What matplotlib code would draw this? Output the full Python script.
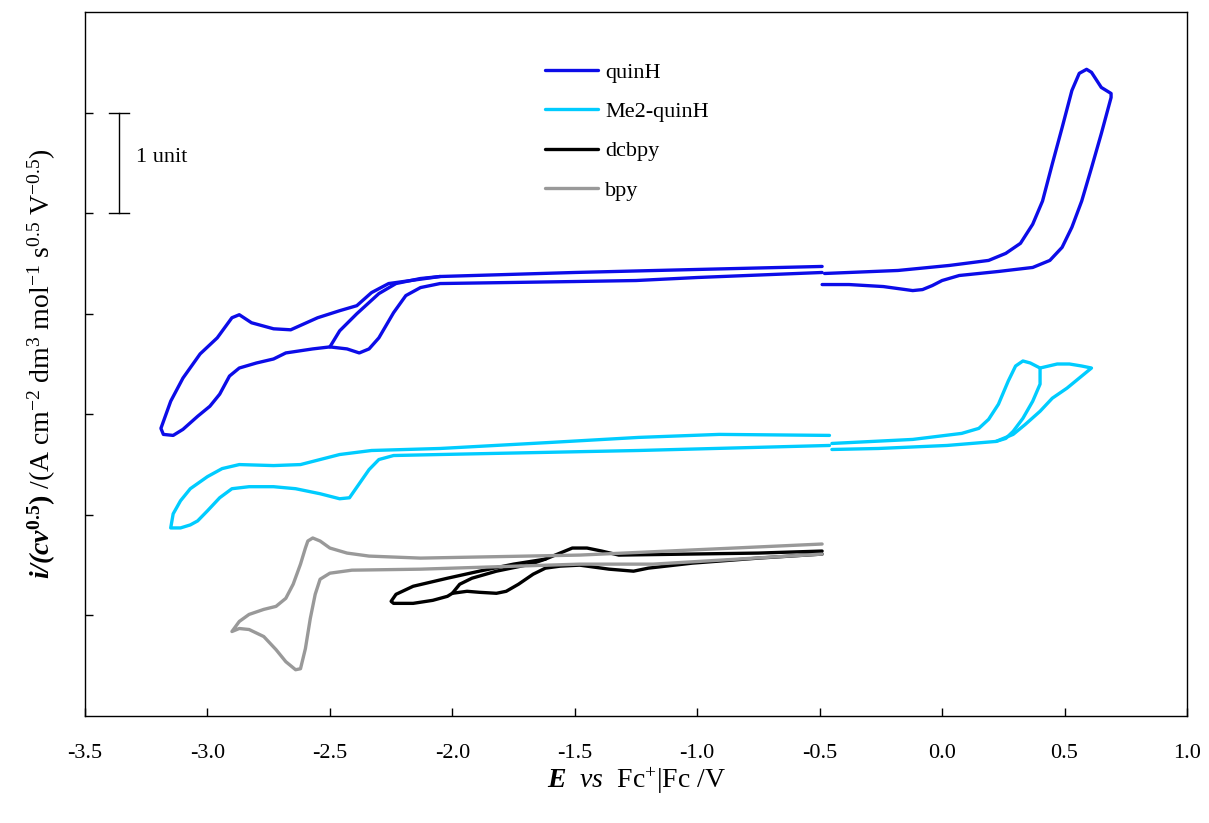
import matplotlib
matplotlib.use("Agg")
import matplotlib.pyplot as plt

plt.rcParams["font.family"] = "Liberation Serif"
plt.rcParams["font.size"] = 16
plt.rcParams["mathtext.fontset"] = "custom"
plt.rcParams["mathtext.rm"] = "Liberation Serif"
plt.rcParams["mathtext.it"] = "Liberation Serif:italic"
plt.rcParams["mathtext.bf"] = "Liberation Serif:bold"
plt.rcParams["mathtext.bfit"] = "Liberation Serif:bold:italic"

# quinH: cathodic loop, second (shorter) cycle, anodic loop
quinH_cat_E = [-0.49, -1.0, -1.5, -2.05, -2.26, -2.33, -2.39, -2.46, -2.55, -2.66, -2.73,
               -2.82, -2.87, -2.90, -2.96, -3.03, -3.10, -3.15, -3.19, -3.18, -3.14, -3.10,
               -3.04, -2.99, -2.95, -2.91, -2.87, -2.80, -2.73, -2.68, -2.57, -2.50, -2.43,
               -2.38, -2.34, -2.30, -2.24, -2.19, -2.13, -2.05, -1.5, -1.25, -1.0, -0.49]
quinH_cat_i = [3.47, 3.44, 3.41, 3.37, 3.30, 3.21, 3.08, 3.03, 2.96, 2.84, 2.85,
               2.91, 2.99, 2.96, 2.76, 2.60, 2.36, 2.13, 1.86, 1.80, 1.79, 1.85,
               1.98, 2.08, 2.20, 2.38, 2.46, 2.51, 2.55, 2.61, 2.65, 2.67, 2.65,
               2.61, 2.65, 2.76, 3.01, 3.18, 3.26, 3.30, 3.32, 3.33, 3.36, 3.41]
quinH_cyc2_E = [-2.50, -2.46, -2.39, -2.30, -2.23, -2.13, -2.05]
quinH_cyc2_i = [2.67, 2.83, 3.00, 3.20, 3.30, 3.35, 3.37]
quinH_an_E = [-0.48, -0.18, 0.03, 0.19, 0.26, 0.32, 0.37, 0.41, 0.45, 0.49, 0.53, 0.56,
              0.59, 0.61, 0.65, 0.69, 0.69, 0.65, 0.61, 0.57, 0.53, 0.49, 0.44, 0.37,
              0.23, 0.07, 0.00, -0.04, -0.08, -0.12, -0.18, -0.24, -0.38, -0.49]
quinH_an_i = [3.40, 3.43, 3.48, 3.53, 3.60, 3.70, 3.89, 4.12, 4.49, 4.85, 5.22, 5.39,
              5.43, 5.40, 5.25, 5.19, 5.15, 4.79, 4.45, 4.12, 3.86, 3.66, 3.53, 3.46,
              3.42, 3.38, 3.33, 3.28, 3.24, 3.23, 3.25, 3.27, 3.29, 3.29]

# Me2-quinH
me2_cat_E = [-0.46, -0.91, -1.24, -1.6, -2.05, -2.33, -2.46, -2.62, -2.73, -2.87, -2.94,
             -3.00, -3.07, -3.11, -3.14, -3.15, -3.11, -3.07, -3.04, -3.00, -2.95, -2.90,
             -2.83, -2.73, -2.64, -2.54, -2.46, -2.42, -2.38, -2.34, -2.30, -2.24, -2.05,
             -1.24, -0.46]
me2_cat_i = [1.79, 1.80, 1.77, 1.72, 1.66, 1.64, 1.60, 1.50, 1.49, 1.50, 1.46,
             1.38, 1.26, 1.14, 1.01, 0.87, 0.87, 0.90, 0.94, 1.04, 1.17, 1.26,
             1.28, 1.28, 1.26, 1.21, 1.16, 1.17, 1.31, 1.45, 1.55, 1.59, 1.60,
             1.64, 1.69]
me2_an_E = [-0.45, -0.12, 0.08, 0.15, 0.19, 0.23, 0.27, 0.30, 0.33, 0.36, 0.40, 0.47,
            0.52, 0.57, 0.61, 0.57, 0.51, 0.45, 0.40, 0.34, 0.29, 0.22, 0.02, -0.26, -0.45]
me2_an_i = [1.71, 1.75, 1.81, 1.86, 1.95, 2.10, 2.33, 2.48, 2.53, 2.51, 2.46, 2.50,
            2.50, 2.48, 2.46, 2.38, 2.26, 2.16, 2.03, 1.90, 1.80, 1.73, 1.69, 1.66, 1.65]
me2_cyc2_E = [0.40, 0.40, 0.37, 0.33, 0.29, 0.26, 0.22]
me2_cyc2_i = [2.46, 2.30, 2.13, 1.96, 1.83, 1.76, 1.73]

# dcbpy
dcbpy_E = [-0.49, -0.75, -1.32, -1.39, -1.45, -1.51, -1.56, -1.62, -1.75, -1.89, -2.02,
           -2.16, -2.23, -2.25, -2.24, -2.16, -2.08, -2.02, -2.00, -1.94, -1.89, -1.82,
           -1.78, -1.73, -1.67, -1.62, -1.56, -1.48, -1.36, -1.26, -1.20, -1.02, -0.75, -0.49]
dcbpy_i = [0.64, 0.62, 0.60, 0.64, 0.67, 0.67, 0.62, 0.56, 0.51, 0.44, 0.37,
           0.29, 0.21, 0.14, 0.12, 0.12, 0.15, 0.19, 0.22, 0.24, 0.23, 0.22,
           0.24, 0.31, 0.41, 0.47, 0.49, 0.50, 0.46, 0.44, 0.47, 0.52, 0.57, 0.61]
dcbpy_cyc2_E = [-2.00, -1.97, -1.92, -1.82, -1.68, -1.62]
dcbpy_cyc2_i = [0.22, 0.31, 0.37, 0.44, 0.51, 0.56]

# bpy
bpy_E = [-0.49, -1.48, -2.13, -2.34, -2.43, -2.50, -2.54, -2.57, -2.59, -2.60, -2.62,
         -2.65, -2.68, -2.72, -2.77, -2.83, -2.87, -2.90, -2.87, -2.83, -2.77, -2.72,
         -2.68, -2.64, -2.62, -2.60, -2.58, -2.56, -2.54, -2.50, -2.41, -2.13, -1.48,
         -1.18, -0.49]
bpy_i = [0.71, 0.60, 0.57, 0.59, 0.62, 0.67, 0.74, 0.77, 0.74, 0.67, 0.51,
         0.31, 0.17, 0.09, 0.06, 0.01, -0.06, -0.16, -0.13, -0.14, -0.21, -0.34,
         -0.46, -0.54, -0.53, -0.33, -0.03, 0.21, 0.36, 0.42, 0.45, 0.46, 0.51,
         0.51, 0.61]

blue, cyan, black, grey = "#0c0ce8", "#00ccff", "black", "#999999"
lw = 2.4

fig = plt.figure(figsize=(12.09, 8.23), dpi=100)
ax = fig.add_axes([85 / 1209, 107 / 823, 1102 / 1209, 704 / 823])

kw = dict(lw=lw, solid_joinstyle="round", solid_capstyle="round")
ax.plot(quinH_cat_E, quinH_cat_i, color=blue, label="quinH", **kw)
ax.plot(quinH_cyc2_E, quinH_cyc2_i, color=blue, **kw)
ax.plot(quinH_an_E, quinH_an_i, color=blue, **kw)
ax.plot(me2_cat_E, me2_cat_i, color=cyan, label="Me2-quinH", **kw)
ax.plot(me2_an_E, me2_an_i, color=cyan, **kw)
ax.plot(me2_cyc2_E, me2_cyc2_i, color=cyan, **kw)
ax.plot(dcbpy_E, dcbpy_i, color=black, label="dcbpy", **kw)
ax.plot(dcbpy_cyc2_E, dcbpy_cyc2_i, color=black, **kw)
ax.plot(bpy_E, bpy_i, color=grey, label="bpy", **kw)

# scale bar: 1 unit
ax.plot([-3.361, -3.361], [4.0, 5.0], color="black", lw=1)
ax.plot([-3.402, -3.320], [5.0, 5.0], color="black", lw=1)
ax.plot([-3.402, -3.320], [4.0, 4.0], color="black", lw=1)
ax.text(-3.29, 4.55, "1 unit", fontsize=16, va="center", ha="left")

ax.set_xlim(-3.5, 1.0)
ax.set_ylim(-1.0, 6.0)
ax.set_xticks([-3.5, -3.0, -2.5, -2.0, -1.5, -1.0, -0.5, 0.0, 0.5, 1.0])
ax.set_xticklabels(["-3.5", "-3.0", "-2.5", "-2.0", "-1.5", "-1.0", "-0.5", "0.0", "0.5", "1.0"])
ax.set_yticks([0, 1, 2, 3, 4, 5])
ax.set_yticklabels([])
ax.tick_params(direction="in", length=6, width=1, labelsize=16)
ax.tick_params(axis="x", pad=20)
for sp in ax.spines.values():
    sp.set_linewidth(1)

ax.set_xlabel(r"$\mathbfit{E}$  $\mathit{vs}$  Fc$^{+}$|Fc /V", fontsize=20, labelpad=2)
ax.set_ylabel(r"$\mathbfit{i/(cv}^{\mathbf{0.5}}\mathbf{)}$ /(A cm$^{-2}$ dm$^{3}$ mol$^{-1}$ s$^{0.5}$ V$^{-0.5}$)",
              fontsize=20, labelpad=16)

ax.legend(loc="upper left", bbox_to_anchor=(545 / 1209, 1 - 62 / 823),
          bbox_transform=fig.transFigure, frameon=False, fontsize=16,
          handlelength=2.4, handletextpad=0.3, labelspacing=0.85, borderpad=0,
          borderaxespad=0)

fig.savefig("out.png", dpi=100)
